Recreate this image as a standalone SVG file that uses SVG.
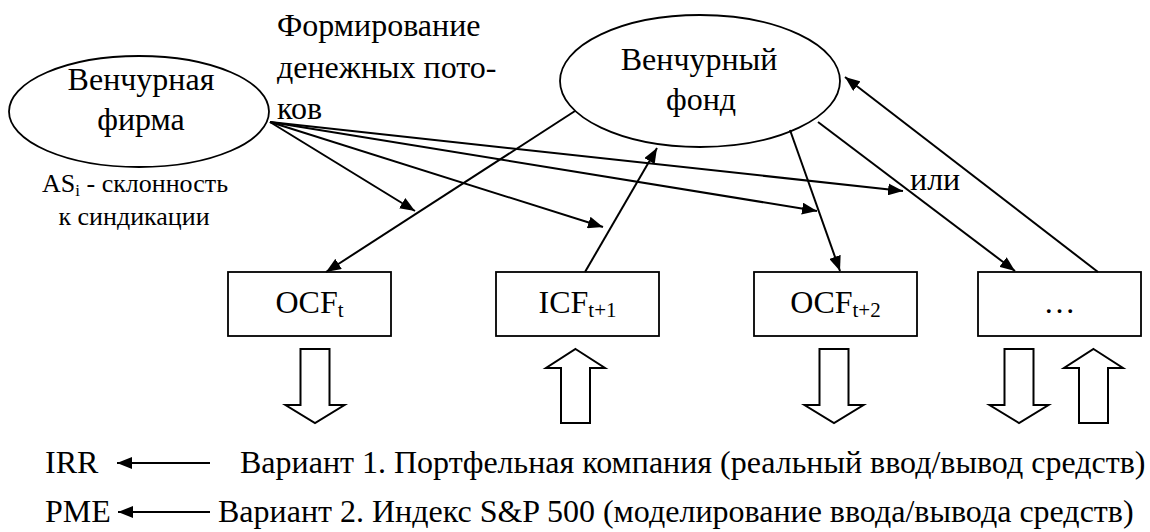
<svg xmlns="http://www.w3.org/2000/svg" width="1150" height="532" viewBox="0 0 1150 532">
<style>
text{font-family:"Liberation Serif","Times New Roman",serif;fill:#000}
.t{font-size:32px}
.s{font-size:26px}
.sub{font-size:21px}
.shape{fill:#fff;stroke:#000;stroke-width:1.8}
.blk{fill:#fff;stroke:#000;stroke-width:2}
.c{stroke:#000;stroke-width:2;fill:none;marker-end:url(#ah)}
</style>
<defs>
<marker id="ah" markerUnits="userSpaceOnUse" markerWidth="16" markerHeight="12" refX="15" refY="6" orient="auto">
<path d="M0,0 L15,6 L0,12 z" fill="#000"/>
</marker>
</defs>
<rect width="1150" height="532" fill="#fff"/>
<g id="firm">
<ellipse class="shape" cx="139" cy="111.5" rx="130" ry="55.5"/>
<text class="t" x="141" y="90" text-anchor="middle">Венчурная</text>
<text class="t" x="141" y="130" text-anchor="middle">фирма</text>
</g>
<g id="firm-note">
<text class="s" x="135" y="192" text-anchor="middle">AS<tspan font-size="17" dy="4">i</tspan><tspan dy="-4"> - склонность</tspan></text>
<text class="s" x="134" y="225" text-anchor="middle">к синдикации</text>
</g>
<g id="flows-label">
<text class="t" x="277" y="36">Формирование</text>
<text class="t" x="277" y="77.5">денежных пото-</text>
<text class="t" x="277" y="119">ков</text>
</g>
<g id="fund">
<ellipse class="shape" cx="700" cy="81" rx="140" ry="66"/>
<text class="t" x="699" y="70" text-anchor="middle">Венчурный</text>
<text class="t" x="701" y="110" text-anchor="middle">фонд</text>
</g>
<g id="ocf-t">
<rect class="shape" x="228" y="272" width="163" height="64"/>
<text class="t" x="309.5" y="313" text-anchor="middle">OCF<tspan class="sub" dy="4">t</tspan></text>
</g>
<g id="icf-t1">
<rect class="shape" x="496" y="272" width="163" height="64"/>
<text class="t" x="577.5" y="313" text-anchor="middle">ICF<tspan class="sub" dy="4">t+1</tspan></text>
</g>
<g id="ocf-t2">
<rect class="shape" x="754" y="272" width="163" height="64"/>
<text class="t" x="835.5" y="313" text-anchor="middle">OCF<tspan class="sub" dy="4">t+2</tspan></text>
</g>
<g id="more">
<rect class="shape" x="978" y="272" width="163" height="64"/>
<text class="t" x="1059.5" y="313" text-anchor="middle">…</text>
</g>
<g id="or-label">
<text class="t" x="910" y="190">или</text>
</g>
<g id="connectors">
<line class="c" x1="270" y1="122" x2="415" y2="211"/>
<line class="c" x1="270" y1="122" x2="603" y2="227"/>
<line class="c" x1="270" y1="122" x2="817" y2="211"/>
<line class="c" x1="270" y1="122" x2="903" y2="191"/>
<line class="c" x1="575" y1="111" x2="326" y2="272"/>
<line class="c" x1="585" y1="272" x2="657" y2="148"/>
<line class="c" x1="790" y1="130" x2="840" y2="271"/>
<line class="c" x1="818" y1="122" x2="1015" y2="271"/>
<line class="c" x1="1098" y1="272" x2="845" y2="77"/>
<line class="c" x1="210" y1="463" x2="117" y2="463"/>
<line class="c" x1="210" y1="512" x2="118" y2="512"/>
</g>
<g id="block-arrows">
<polygon class="blk" points="300.5,349 329.5,349 329.5,405 344.5,405 315,423 285.5,405 300.5,405"/>
<polygon class="blk" points="575.5,349 605,368 590,368 590,423 561,423 561,368 546,368"/>
<polygon class="blk" points="819.5,349 848.5,349 848.5,405 863.5,405 834,423 804.5,405 819.5,405"/>
<polygon class="blk" points="1004.5,349 1033.5,349 1033.5,405 1048.5,405 1019,423 989.5,405 1004.5,405"/>
<polygon class="blk" points="1093.5,349 1123,368 1108,368 1108,423 1079,423 1079,368 1064,368"/>
</g>
<g id="irr">
<text class="t" x="45" y="473">IRR</text>
<text class="t" x="240" y="473">Вариант 1. Портфельная компания (реальный ввод/вывод средств)</text>
</g>
<g id="pme">
<text class="t" x="45" y="522">PME</text>
<text class="t" x="218" y="522">Вариант 2. Индекс S&amp;P 500 (моделирование ввода/вывода средств)</text>
</g>
</svg>
